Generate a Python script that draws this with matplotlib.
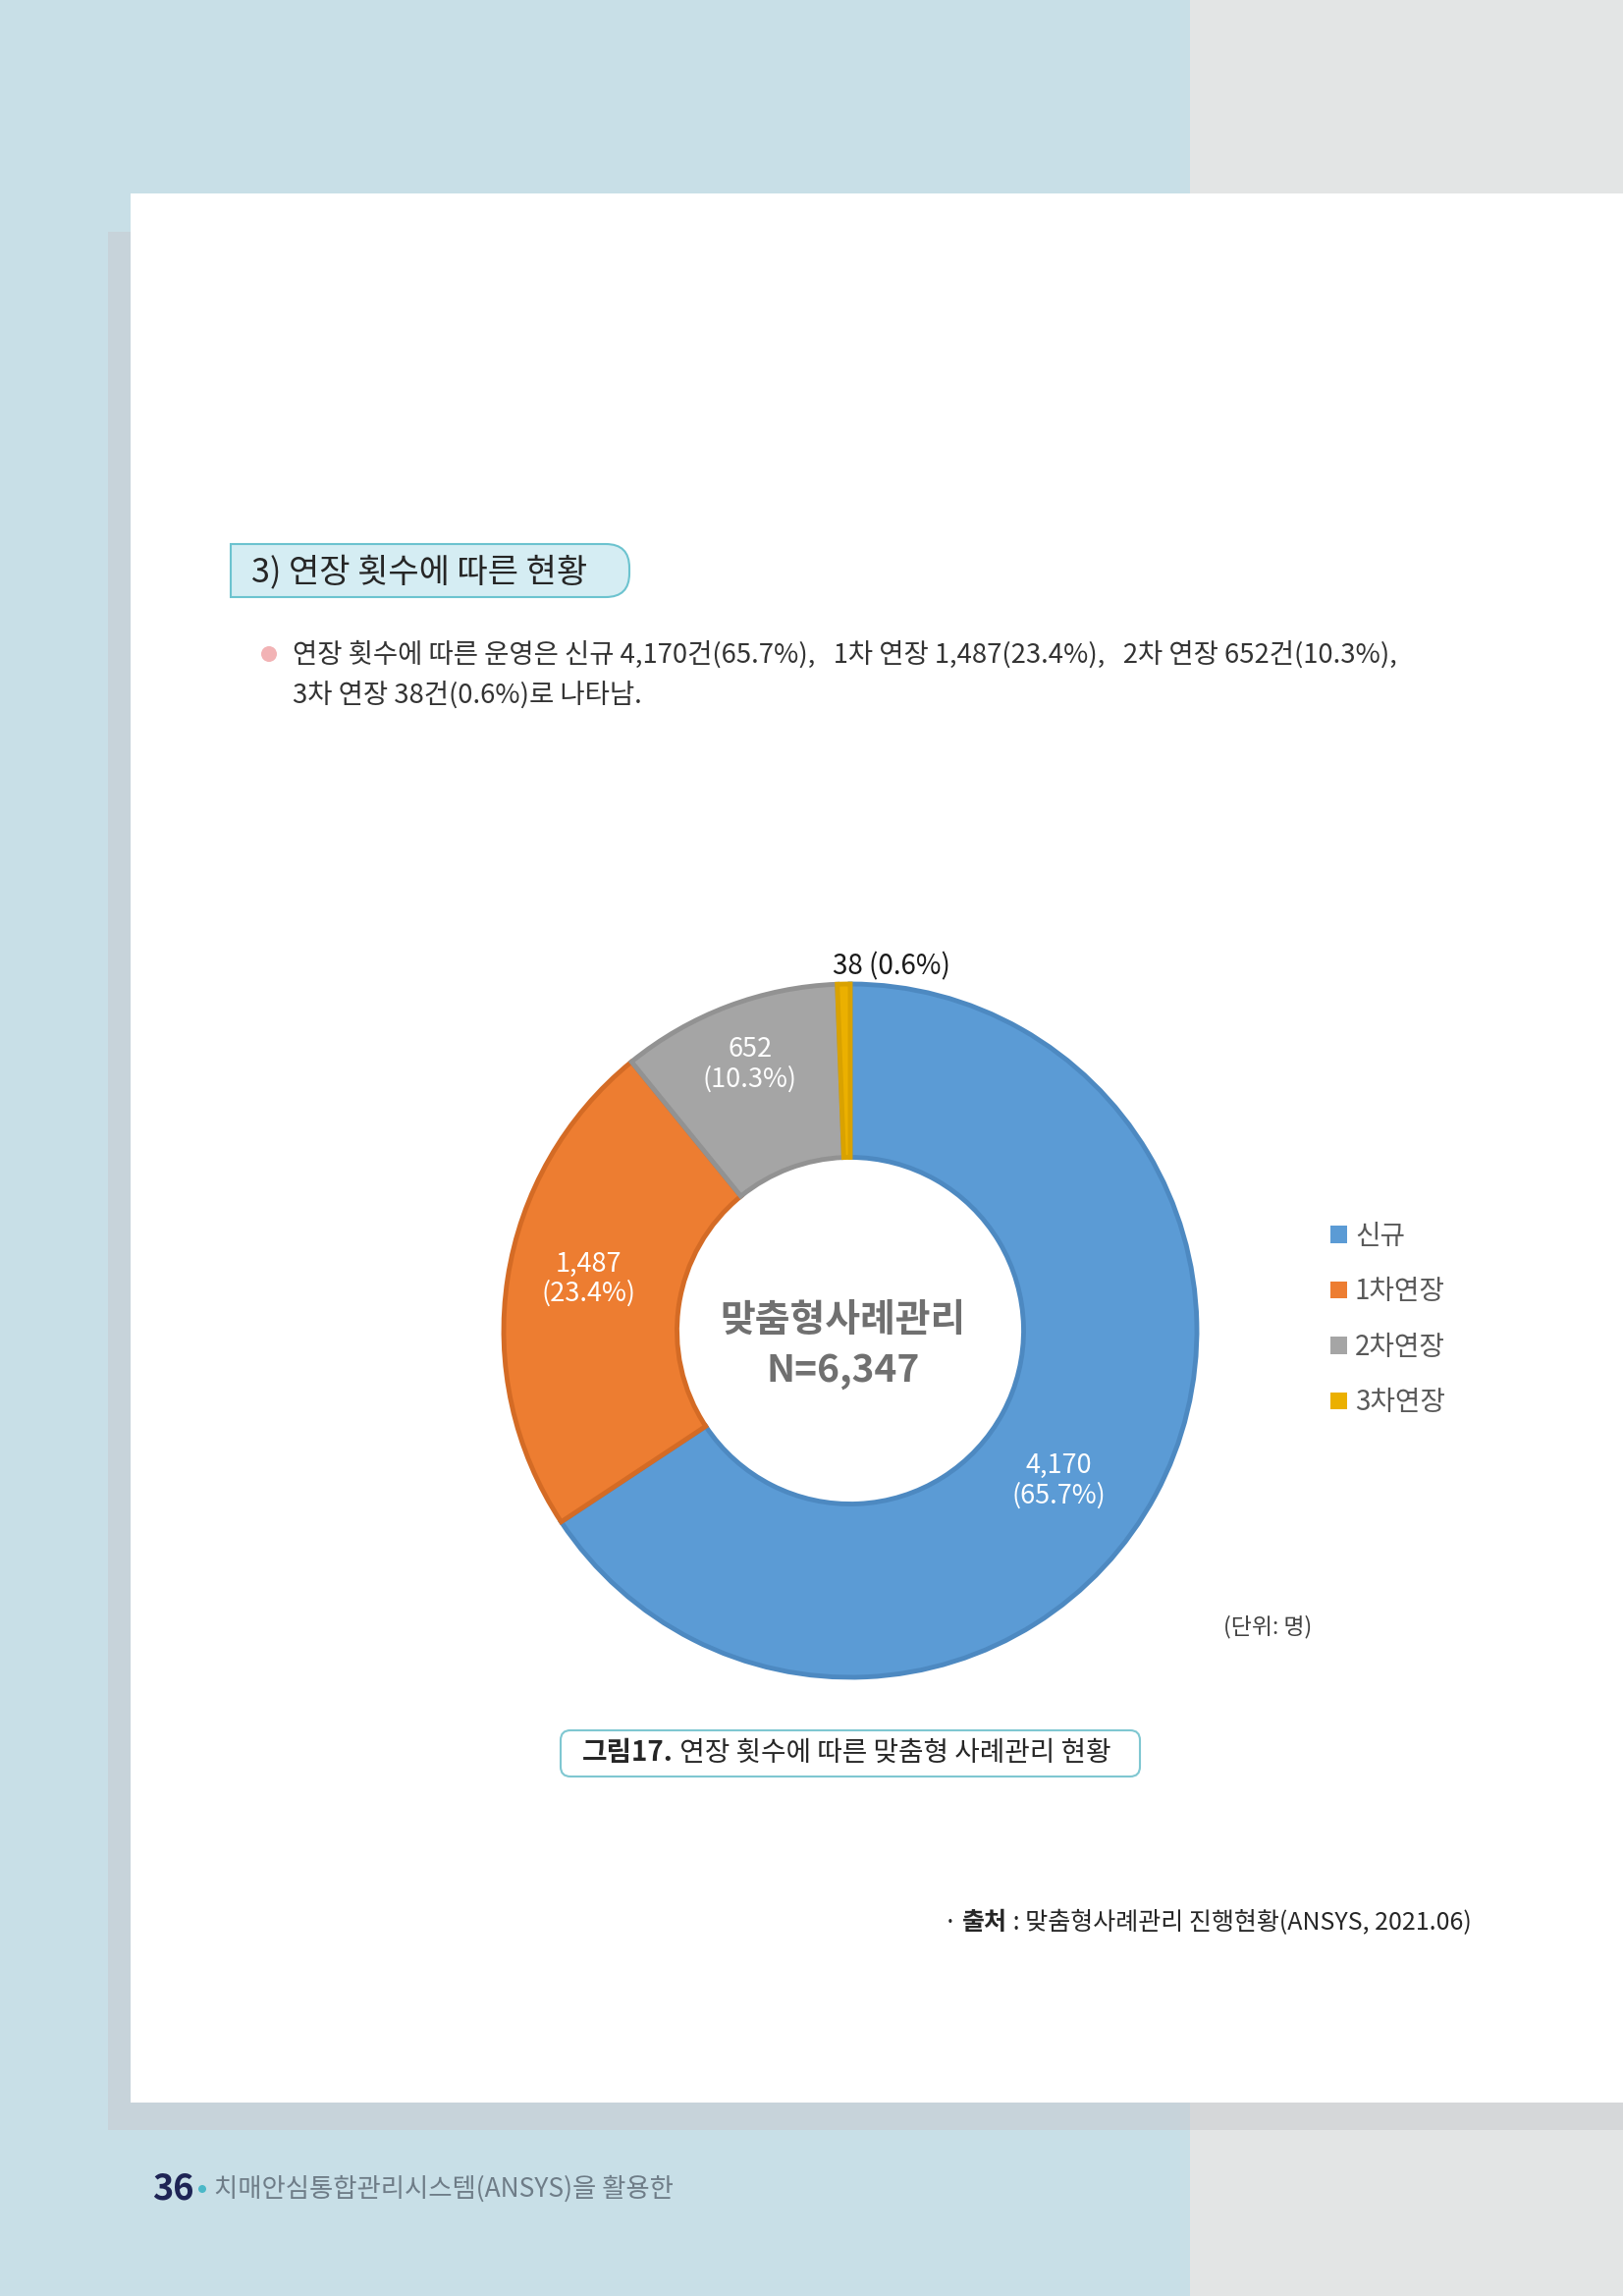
import numpy as np
import matplotlib
matplotlib.use('Agg')
import matplotlib.pyplot as plt
from matplotlib.patches import Rectangle, FancyBboxPatch, PathPatch, Circle
from matplotlib.path import Path

plt.rcParams['font.family'] = ['Noto Sans CJK KR', 'DejaVu Sans']

# data
categories = ['신규', '1차연장', '2차연장', '3차연장']
counts = [4170, 1487, 652, 38]
shares = [65.7, 23.4, 10.3, 0.6]
total = 6347

colors = ['#5B9BD5', '#ED7D31', '#A5A5A5', '#EBB000']
edges = ['#4D89C1', '#D46B25', '#929292', '#D9A200']

W, H = 1653, 2338
fig = plt.figure(figsize=(W / 100, H / 100), dpi=100)
bg = fig.add_axes([0, 0, 1, 1])
bg.set_xlim(0, W)
bg.set_ylim(H, 0)
bg.axis('off')

# page background
bg.add_patch(Rectangle((0, 0), 1212, H, color='#C8DFE7', lw=0))
bg.add_patch(Rectangle((1212, 0), W - 1212, H, color='#E3E5E5', lw=0))
bg.add_patch(Rectangle((110, 236), 1212 - 110, 2169 - 236, color='#C7D3DA', lw=0))
bg.add_patch(Rectangle((1212, 236), W - 1212, 2169 - 236, color='#D5D7D9', lw=0))
bg.add_patch(Rectangle((133, 197), W - 133, 2141 - 197, color='white', lw=0))

# section heading box (right side rounded)
x0, x1, y0, y1, r = 235, 641, 554, 608, 24
verts = [(x0, y0), (x1 - r, y0), (x1, y0), (x1, y0 + r), (x1, y1 - r),
         (x1, y1), (x1 - r, y1), (x0, y1), (x0, y0)]
codes = [Path.MOVETO, Path.LINETO, Path.CURVE3, Path.CURVE3, Path.LINETO,
         Path.CURVE3, Path.CURVE3, Path.LINETO, Path.CLOSEPOLY]
bg.add_patch(PathPatch(Path(verts, codes), fc='#D5EDF3', ec='#6CC3CF', lw=1.5))
bg.text(256, 583, '3) 연장 횟수에 따른 현황', size=24.5, color='#262626',
        ha='left', va='center')

# bullet text
bg.add_patch(Circle((274, 666), 8, color='#F2B3B5', lw=0))
bg.text(298, 666, '연장 횟수에 따른 운영은 신규 4,170건(65.7%),   1차 연장 1,487(23.4%),   '
        '2차 연장 652건(10.3%),', size=19.8, color='#333333', ha='left', va='center')
bg.text(298, 708, '3차 연장 38건(0.6%)로 나타남.', size=19.8, color='#333333',
        ha='left', va='center')

# donut
R = 353
S = 420
cx, cy = 866, 1355
ax = fig.add_axes([(cx - S) / W, 1 - (cy + S) / H, 2 * S / W, 2 * S / H])
wedges, _ = ax.pie(counts, colors=colors, startangle=90, counterclock=False,
                   radius=1, wedgeprops=dict(width=0.5, linewidth=3.5))
for w, ec in zip(wedges, edges):
    w.set_edgecolor(ec)
ax.set_xlim(-S / R, S / R)
ax.set_ylim(-S / R, S / R)
ax.set_aspect('equal')
ax.axis('off')

# label placement: radius and angle nudge per slice
label_r = [0.74, 0.77, 0.82]
label_nudge = [-7.5, -2.5, 0.0]
for i in range(3):
    w = wedges[i]
    mid = np.deg2rad((w.theta1 + w.theta2) / 2 + label_nudge[i])
    ax.text(label_r[i] * np.cos(mid), label_r[i] * np.sin(mid),
            f'{counts[i]:,}\n({shares[i]}%)',
            color='white', size=19.5, ha='center', va='center', linespacing=1.15)
ax.text(0.12, 1.05, f'{counts[3]} ({shares[3]}%)', color='#1A1A1A', size=20,
        ha='center', va='center')

ax.text(-0.02, 0.03, '맞춤형사례관리', size=28, weight='bold', color='#707070',
        ha='center', va='center')
ax.text(-0.02, -0.115, f'N={total:,}', size=28, weight='bold', color='#707070',
        ha='center', va='center')

# legend
handles = [Rectangle((0, 0), 1, 1, fc=c, lw=0) for c in colors]
fig.legend(handles, categories, loc='upper left', bbox_to_anchor=(1355 / W, 1 - 1244 / H),
           frameon=False, fontsize=20, labelcolor='#595959', handlelength=0.6,
           handleheight=0.6, handletextpad=0.3, labelspacing=0.95, borderpad=0,
           borderaxespad=0)

bg.text(1291, 1657, '(단위: 명)', size=16.5, color='#404040', ha='center', va='center')

# caption box
bg.add_patch(FancyBboxPatch((571, 1762), 590, 47, boxstyle='round,pad=0,rounding_size=10',
                            fc='white', ec='#7FC7D1', lw=1.5))
renderer = fig.canvas.get_renderer()
inv = bg.transData.inverted()

t1 = bg.text(593, 1785, '그림17.', size=20, weight='bold', color='#262626',
             ha='left', va='center')
ext = t1.get_window_extent(renderer)
xr = inv.transform((ext.x1, ext.y0))[0]
bg.text(xr, 1785, ' 연장 횟수에 따른 맞춤형 사례관리 현황', size=20, color='#262626',
        ha='left', va='center')

# source
t2 = bg.text(1499, 1958, ' : 맞춤형사례관리 진행현황(ANSYS, 2021.06)', size=18,
             color='#262626', ha='right', va='center')
ext = t2.get_window_extent(renderer)
xl = inv.transform((ext.x0, ext.y0))[0]
t3 = bg.text(xl, 1958, '출처', size=18, weight='bold', color='#262626',
             ha='right', va='center')
ext = t3.get_window_extent(renderer)
xl = inv.transform((ext.x0, ext.y0))[0]
bg.text(xl, 1958, '· ', size=18, color='#262626', ha='right', va='center')

# footer
bg.text(155, 2229, '36', size=26, weight='bold', color='#1E2455', ha='left', va='center')
bg.add_patch(Circle((206, 2229), 4, color='#4BB8C8', lw=0))
bg.text(218, 2229, '치매안심통합관리시스템(ANSYS)을 활용한', size=19, color='#6E7C87',
        ha='left', va='center')

fig.savefig('out.png', dpi=100)
